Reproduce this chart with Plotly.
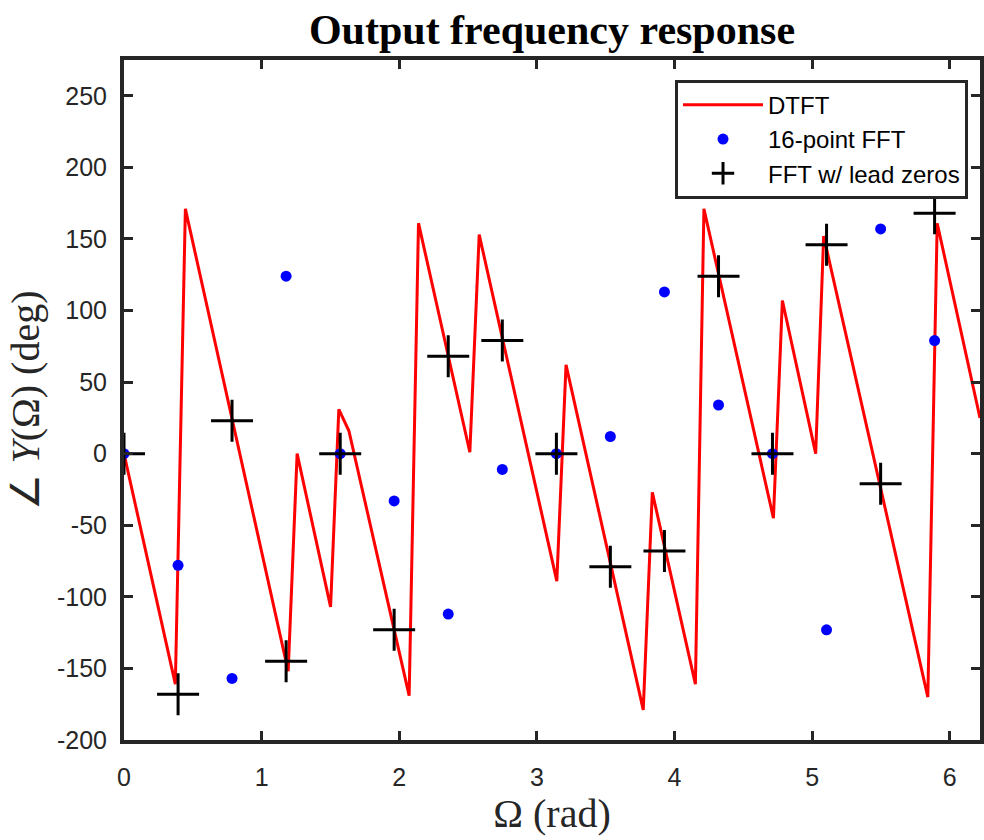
import plotly.graph_objects as go

# DTFT (red line) vertices: omega (rad), phase (deg)
dtft_omega = [0.0, 0.373, 0.446, 1.193, 1.258, 1.501, 1.561, 1.634, 2.072, 2.140,
              2.513, 2.581, 3.145, 3.212, 3.773, 3.839, 4.152, 4.214, 4.719, 4.784,
              5.026, 5.084, 5.841, 5.909, 6.220]
dtft_phase = [0, -161, 171, -152, 0, -107, 31, 16, -169, 161,
              1, 153, -89, 62, -179, -27, -161, 171, -45, 107,
              0, 152, -170, 161, 25]

# FFT bin frequencies (rad)
fft_omega = [0.0, 0.393, 0.785, 1.178, 1.571, 1.963, 2.356, 2.749,
             3.142, 3.534, 3.927, 4.320, 4.712, 5.105, 5.498, 5.890]
# 16-point FFT phase (deg)
fft16_phase = [0, -78, -157, 124, 0, -33, -112, -11,
               0, 12, 113, 34, 0, -123, 157, 79]
# FFT with leading zeros phase (deg)
fftlz_phase = [0, -168, 23, -145, 0, -123, 68, 79,
               0, -79, -68, 124, 0, 146, -21, 168]

x_ticks = [0, 1, 2, 3, 4, 5, 6]
x_ticktext = ["0", "1", "2", "3", "4", "5", "6"]
y_ticks = [-200, -150, -100, -50, 0, 50, 100, 150, 200, 250]
y_ticktext = ["-200", "-150", "-100", "-50", "0", "50", "100", "150", "200", "250"]

AX = "#262626"
SERIF = "Liberation Serif, Times New Roman, serif"
SANS = "Liberation Sans, Arial, sans-serif"

fig = go.Figure()
fig.add_trace(go.Scatter(x=dtft_omega, y=dtft_phase, mode="lines", name="DTFT",
                         line=dict(color="#FF0000", width=3)))
fig.add_trace(go.Scatter(x=fft_omega, y=fft16_phase, mode="markers", name="16-point FFT",
                         marker=dict(color="#0000FF", size=11, symbol="circle")))
fig.add_trace(go.Scatter(x=fft_omega, y=fftlz_phase, mode="markers", name="FFT w/ lead zeros",
                         marker=dict(symbol="cross-thin", size=30, color="#000000",
                                     line=dict(color="#000000", width=3))))

axis_common = dict(showgrid=False, zeroline=False, showline=True, linecolor=AX,
                   linewidth=4, mirror="ticks", ticks="inside", ticklen=9,
                   tickwidth=3, tickcolor=AX,
                   tickfont=dict(family=SANS, size=25, color=AX))

fig.update_layout(
    width=984, height=840,
    margin=dict(l=124, r=0, t=60, b=100),
    paper_bgcolor="white", plot_bgcolor="white",
    title=dict(text="<b>Output frequency response</b>", x=0.5, xref="paper",
               xanchor="center", y=0.965, yref="container", yanchor="middle",
               font=dict(family=SERIF, size=42, color="#000000")),
    xaxis=dict(range=[0, 6.22], tickvals=x_ticks, ticktext=x_ticktext,
               ticklabelstandoff=12,
               title=dict(text="Ω (rad)", font=dict(family=SERIF, size=40, color=AX),
                          standoff=8),
               **axis_common),
    yaxis=dict(range=[-200, 275], tickvals=y_ticks, ticktext=y_ticktext,
               ticklabelstandoff=8,
               title=dict(text="∠ <i>Y</i>(Ω) (deg)", font=dict(family=SERIF, size=40, color=AX),
                          standoff=6),
               **axis_common),
    legend=dict(x=0.986, y=0.971, xanchor="right", yanchor="top",
                bgcolor="white", bordercolor=AX, borderwidth=3,
                font=dict(family=SANS, size=24, color="#000000"),
                tracegroupgap=0, itemsizing="trace", itemwidth=80),
    showlegend=True,
)

fig.write_html("out.html")
